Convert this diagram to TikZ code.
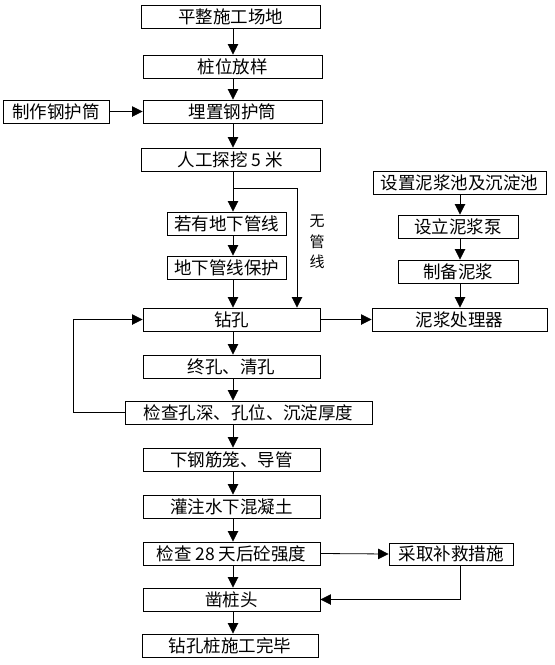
\documentclass[tikz,border=0pt]{standalone}
\usepackage{fontspec}
\newfontfamily\cjk{Noto Sans CJK SC}
\usetikzlibrary{arrows.meta}
\begin{document}
\begin{tikzpicture}[x=1pt,y=-1pt,
  box/.style={draw=black,line width=0.9pt,fill=white,inner sep=0pt,minimum height=23pt,font=\cjk\fontsize{17.5}{19}\selectfont},
  arr/.style={line width=0.8pt,-{Triangle[length=10.5pt,width=10.5pt]}},
  ln/.style={line width=0.8pt}]
\useasboundingbox (0,0) rectangle (555,665);
% main column
\node[box,minimum width=179pt] (b1) at (230.5,16.5) {平整施工场地};
\node[box,minimum width=179pt] (b2) at (232.5,66.5) {桩位放样};
\node[box,minimum width=179pt] (b3) at (232.5,111.5) {埋置钢护筒};
\node[box,minimum width=106pt] (b4) at (56,111.5) {制作钢护筒};
\node[box,minimum width=179pt] (b5) at (230.5,159.5) {人工探挖 5 米};
\node[box,minimum width=119pt] (b6) at (226.5,223.5) {若有地下管线};
\node[box,minimum width=119pt] (b7) at (226.5,267.5) {地下管线保护};
\node[box,minimum width=177pt] (b8) at (231.5,319.5) {钻孔};
\node[box,minimum width=177pt] (b9) at (231.5,366.5) {终孔、清孔};
\node[box,minimum width=247pt] (b10) at (248.5,412.5) {检查孔深、孔位、沉淀厚度};
\node[box,minimum width=177pt] (b11) at (231.5,459.5) {下钢筋笼、导管};
\node[box,minimum width=177pt] (b12) at (231.5,506.5) {灌注水下混凝土};
\node[box,minimum width=177pt] (b13) at (231.5,553.5) {检查 28 天后砼强度};
\node[box,minimum width=124pt,minimum height=22pt] (b14) at (451,554) {采取补救措施};
\node[box,minimum width=177pt] (b15) at (231.5,599.5) {凿桩头};
\node[box,minimum width=176pt] (b16) at (230,645.5) {钻孔桩施工完毕};
% right column
\node[box,minimum width=173pt] (b17) at (459.5,182.5) {设置泥浆池及沉淀池};
\node[box,minimum width=120pt] (b18) at (458,226.5) {设立泥浆泵};
\node[box,minimum width=120pt] (b19) at (458,271.5) {制备泥浆};
\node[box,minimum width=175pt] (b20) at (459.5,319.5) {泥浆处理器};
% label
\node[font=\cjk\fontsize{15}{20.5}\selectfont,align=center,inner sep=0pt] (lbl) at (317,242) {无\\管\\线};
% coordinates
\coordinate (m) at (233,0);
\coordinate (rr) at (460,0);
\coordinate (lp) at (73,0);
\coordinate (j) at (233,188);
\coordinate (r) at (297,188);
% main connectors
\draw[arr] (b1.south -| m) -- (b2.north -| m);
\draw[arr] (b2.south -| m) -- (b3.north -| m);
\draw[arr] (b4.east) -- (b3.west);
\draw[arr] (b3.south -| m) -- (b5.north -| m);
\draw[ln] (b5.south -| m) -- (j);
\draw[arr] (j) -- (b6.north -| m);
\draw[arr] (j) -- (r) -- (b8.north -| r);
\draw[arr] (b6.south -| m) -- (b7.north -| m);
\draw[arr] (b7.south -| m) -- (b8.north -| m);
\draw[arr] (b8.south -| m) -- (b9.north -| m);
\draw[arr] (b9.south -| m) -- (b10.north -| m);
\draw[arr] (b10.west) -- (b10.west -| lp) |- (b8.west);
\draw[arr] (b10.south -| m) -- (b11.north -| m);
\draw[arr] (b11.south -| m) -- (b12.north -| m);
\draw[arr] (b12.south -| m) -- (b13.north -| m);
\draw[arr] (b13.east) -- (b14.west);
\draw[arr] (b14.south -| rr) |- (b15.east);
\draw[arr] (b13.south -| m) -- (b15.north -| m);
\draw[arr] (b15.south -| m) -- (b16.north -| m);
\draw[arr] (b8.east) -- (b20.west);
% right connectors
\draw[arr] (b17.south -| rr) -- (b18.north -| rr);
\draw[arr] (b18.south -| rr) -- (b19.north -| rr);
\draw[arr] (b19.south -| rr) -- (b20.north -| rr);
\end{tikzpicture}
\end{document}
